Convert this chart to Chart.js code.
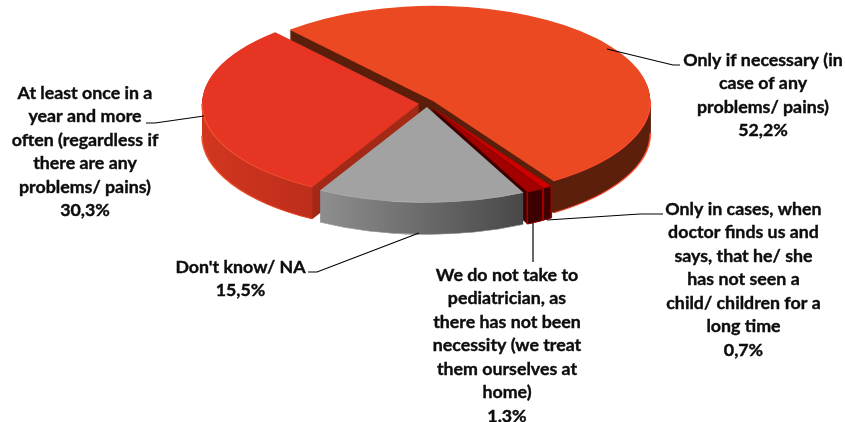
<!DOCTYPE html>
<html>
<head>
<meta charset="utf-8">
<style>
  html, body { margin: 0; padding: 0; background: #fff; }
  #wrap { width: 845px; height: 422px; }
</style>
<script src="https://cdn.jsdelivr.net/npm/chart.js@4"></script>
</head>
<body>
<div id="wrap"><canvas id="pieChart" width="845" height="422"></canvas></div>
<script>
const categories = [
    'Only if necessary (in case of any problems/ pains)',
    'Only in cases, when doctor finds us and says, that he/ she has not seen a child/ children for a long time',
    'We do not take to pediatrician, as there has not been necessity (we treat them ourselves at home)',
    "Don't know/ NA",
    'At least once in a year and more often (regardless if there are any problems/ pains)'
];
const values = [52.2, 0.7, 1.3, 15.5, 30.3];
const valueLabels = ['52,2%', '0,7%', '1,3%', '15,5%', '30,3%'];
const topColors = ['#ea4922', '#cc0000', '#a30000', '#a2a2a2', '#e63522'];
const cutColors = ['#5c1f0c', '#5a0000', '#3d0000', '#6e6e6e', '#a32a17'];
const wallFrom = ['#5c1f0c', '#3d0000', '#3d0000', '#8e8e8e', '#d2361f'];
const wallTo = ['#5c1f0c', '#3d0000', '#3d0000', '#484848', '#bd2e1b'];
const rimColors = ['#ff4a30', '#a00000', '#a00000', '#b4b4b4', '#f0502f'];

// wrapped lines of each label, same order as categories
const labelLines = [
    ['Only if necessary (in', 'case of any', 'problems/ pains)', valueLabels[0]],
    ['Only in cases, when', 'doctor finds us and', 'says, that he/ she', 'has not seen a', 'child/ children for a', 'long time', valueLabels[1]],
    ['We do not take to', 'pediatrician, as', 'there has not been', 'necessity (we treat', 'them ourselves at', 'home)', valueLabels[2]],
    ["Don't know/ NA", valueLabels[3]],
    ['At least once in a', 'year and more', 'often (regardless if', 'there are any', 'problems/ pains)', valueLabels[4]]
];
const labelCenterX = [763, 743.5, 507, 240.5, 85];
const labelFirstY = [60, 209, 275, 267, 93];
const leaders = [
    [[607, 49], [673, 65], [680, 65]],
    [[547, 220], [640, 214], [663, 214]],
    [[533, 223], [533, 262]],
    [[419, 233], [317, 272], [308, 272]],
    [[204, 116], [155, 123], [146, 123]]
];

const squash = 0.44;
const pieRadius = 217;
const centerY = 103.5;
const wallDepth = 32;
const explode = 8;
// back to front
const drawOrder = [0, 4, 1, 2, 3];
const edgedSlices = [1, 2];

const pie3d = {
    id: 'pie3d',
    beforeDatasetsDraw(chart) {
        const ctx = chart.ctx;
        const arcs = chart.getDatasetMeta(0).data;
        const placeSlice = (arc, drop) => {
            const mid = (arc.startAngle + arc.endAngle) / 2;
            ctx.translate(0, centerY);
            ctx.scale(1, squash);
            ctx.translate(0, -arc.y);
            ctx.translate(Math.cos(mid) * explode, Math.sin(mid) * explode + drop / squash);
        };
        drawOrder.forEach(i => {
            const arc = arcs[i];
            const base = arc.options;
            const r = arc.outerRadius;
            const drop = wallDepth / squash;
            // cut faces: stack the slice downwards
            arc.options = Object.assign({}, base, { backgroundColor: cutColors[i], borderColor: cutColors[i], borderWidth: 0 });
            for (let d = wallDepth; d > 0; d--) {
                ctx.save();
                placeSlice(arc, d);
                arc.draw(ctx);
                ctx.restore();
            }
            arc.options = base;

            // outer wall, only the part of the rim that faces us
            const a1 = Math.max(arc.startAngle, 0);
            const a2 = Math.min(arc.endAngle, Math.PI);
            ctx.save();
            placeSlice(arc, 0);
            if (a2 > a1) {
                const x1 = arc.x + Math.cos(a2) * r;
                const x2 = arc.x + Math.cos(a1) * r;
                const grad = ctx.createLinearGradient(x1, 0, x2, 0);
                grad.addColorStop(0, wallFrom[i]);
                grad.addColorStop(1, wallTo[i]);
                ctx.beginPath();
                ctx.arc(arc.x, arc.y, r, a1, a2);
                ctx.arc(arc.x, arc.y + drop, r, a2, a1, true);
                ctx.closePath();
                ctx.fillStyle = grad;
                ctx.fill();

                ctx.strokeStyle = rimColors[i];
                ctx.lineWidth = 1.6;
                ctx.beginPath();
                ctx.arc(arc.x, arc.y + drop, r, a1, a2);
                ctx.stroke();
            }
            if (edgedSlices.includes(i)) {
                ctx.strokeStyle = rimColors[i];
                ctx.lineWidth = 1.6;
                [arc.startAngle, arc.endAngle].forEach(a => {
                    const ex = arc.x + Math.cos(a) * r;
                    const ey = arc.y + Math.sin(a) * r;
                    ctx.beginPath();
                    ctx.moveTo(ex, ey);
                    ctx.lineTo(ex, ey + drop);
                    ctx.stroke();
                });
            }
            ctx.restore();

            // top face
            ctx.save();
            placeSlice(arc, 0);
            arc.draw(ctx);
            if (a2 > a1) {
                ctx.strokeStyle = rimColors[i];
                ctx.lineWidth = 1.6;
                ctx.beginPath();
                ctx.arc(arc.x, arc.y, r, a1, a2);
                ctx.stroke();
            }
            ctx.restore();
        });
        return false;
    }
};

const outsideLabels = {
    id: 'outsideLabels',
    afterDraw(chart) {
        const ctx = chart.ctx;
        ctx.save();
        ctx.strokeStyle = '#000';
        ctx.lineWidth = 1.2;
        leaders.forEach(pts => {
            ctx.beginPath();
            pts.forEach((p, k) => k ? ctx.lineTo(p[0], p[1]) : ctx.moveTo(p[0], p[1]));
            ctx.stroke();
        });
        ctx.fillStyle = '#0d0d0d';
        ctx.strokeStyle = '#0d0d0d';
        ctx.lineWidth = 0.4;
        ctx.font = 'bold 17.8px Lato';
        ctx.textAlign = 'center';
        ctx.textBaseline = 'middle';
        labelLines.forEach((lines, i) => {
            lines.forEach((line, k) => {
                const y = labelFirstY[i] + k * 23.5;
                ctx.fillText(line, labelCenterX[i], y);
                ctx.strokeText(line, labelCenterX[i], y);
            });
        });
        ctx.restore();
    }
};

new Chart(document.getElementById('pieChart').getContext('2d'), {
    type: 'pie',
    data: {
        labels: categories,
        datasets: [{
            data: values,
            backgroundColor: topColors,
            borderColor: rimColors,
            borderWidth: 0
        }]
    },
    options: {
        responsive: false,
        animation: false,
        rotation: -41.5,
        radius: pieRadius,
        layout: { padding: { left: 9 } },
        plugins: {
            legend: { display: false },
            tooltip: { enabled: false }
        }
    },
    plugins: [pie3d, outsideLabels]
});
</script>
</body>
</html>
